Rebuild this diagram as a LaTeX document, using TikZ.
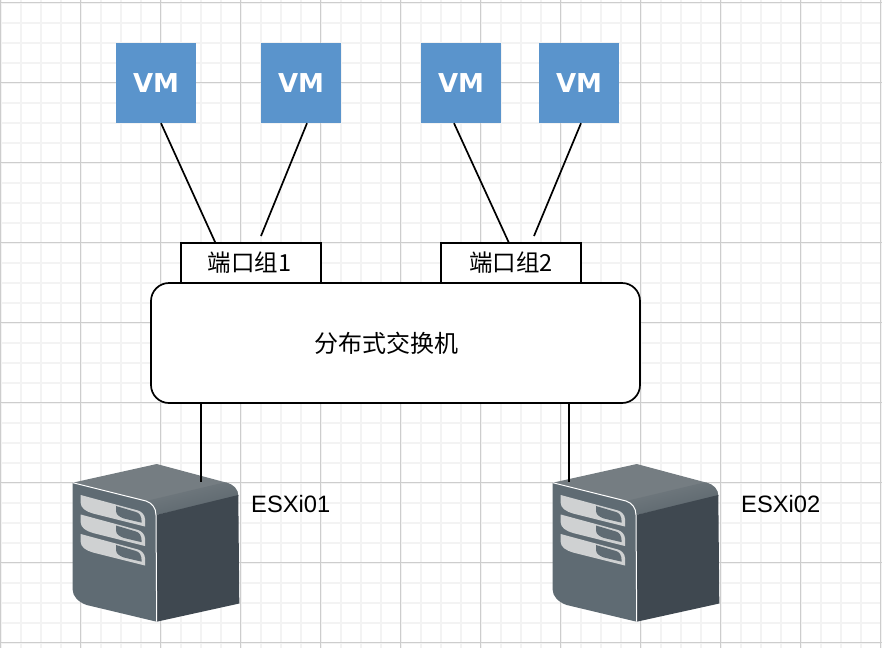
\documentclass[tikz,border=0pt]{standalone}
\usepackage{fontspec}
\setmainfont{Liberation Sans}
\newfontfamily\cjk{Noto Sans CJK SC}
\newfontfamily\vmfont{DejaVu Sans}
\usetikzlibrary{calc}
\definecolor{gridminor}{HTML}{F3F3F3}
\definecolor{gridmajor}{HTML}{CDCDCD}
\definecolor{vmblue}{HTML}{5A94CC}
\definecolor{srvtop}{HTML}{757D82}
\definecolor{srvband}{HTML}{59646B}
\definecolor{srvfront}{HTML}{5F6B73}
\definecolor{srvright}{HTML}{3F4850}
\definecolor{srvslot}{HTML}{CFD1D2}
\tikzset{
  x=1pt,y=-1pt,
  vmbox/.style={fill=vmblue,draw=none,minimum width=80pt,minimum height=80pt,inner sep=0pt,text=white,font=\vmfont\bfseries\fontsize{26}{26}\selectfont},
  pgbox/.style={draw=black,line width=1.7pt,fill=white,minimum width=140pt,minimum height=40pt,inner sep=0pt,font=\cjk\fontsize{23.5}{26}\selectfont},
  swbox/.style={draw=black,line width=1.7pt,fill=white,rounded corners=18pt,minimum width=489pt,minimum height=120pt,inner sep=0pt,font=\cjk\fontsize{24}{26}\selectfont},
  link/.style={draw=black,line width=1.7pt},
  label/.style={inner sep=0pt,anchor=west,font=\fontsize{23.7}{26}\selectfont},
  server/.pic={
    \fill[srvtop] (72.7,482.7) -- (156.7,464) -- (226.7,482.7) .. controls (233,484.5) and (238.3,489) .. (238.3,496) -- (156,515) .. controls (156,508) and (152,503) .. (146,501) -- cycle;
    \shade[top color=srvtop,bottom color=srvband,shading angle=14] (146,501) -- (224,482.5) -- (226.7,482.7) .. controls (233,484.5) and (238.3,489) .. (238.3,496) -- (156,515) .. controls (156,508) and (152,503) .. (146,501) -- cycle;
    \fill[srvright] (156,515) -- (238.3,495) -- (239.3,603.5) -- (156.7,621.7) -- cycle;
    \fill[srvfront] (72.7,482.7) -- (146,501) .. controls (152,503) and (156,508) .. (156,515) -- (156.7,621.7) -- (86.7,605) .. controls (78,602) and (72.7,596) .. (72.7,590) -- cycle;
    \draw[white,line width=1pt] (72.7,482.7) -- (146,501) .. controls (152,503) and (156,508) .. (156,515) -- (156.7,621.7);
    \foreach \d in {0,19.5,39}{
      \begin{scope}[yshift=-\d pt]
      \fill[srvslot] (80.7,495) -- (138,510.5) .. controls (141.5,511.5) and (145,515) .. (145,519) -- (145,526.5) -- (93,513.5) .. controls (86,511.5) and (80.7,508) .. (80.7,503) -- cycle;
      \fill[srvfront] (116,506) -- (136,512) .. controls (139.5,513) and (141.7,516) .. (141.7,522.7) -- (124,518.5) .. controls (120,517) and (116,515) .. (116,511) -- cycle;
      \end{scope}
    }
  }
}
\begin{document}
\begin{tikzpicture}
\useasboundingbox (0,0) rectangle (882,648);
\fill[white] (0,0) rectangle (882,648);
\foreach \xx in {0,20,...,880}{\draw[gridminor,line width=2pt] (\xx+.5,0) -- (\xx+.5,648);}
\foreach \yy in {2,22,...,642}{\draw[gridminor,line width=2pt] (0,\yy+.5) -- (882,\yy+.5);}
\foreach \xx in {0,80,...,880}{\draw[gridmajor,line width=1.2pt] (\xx+.5,0) -- (\xx+.5,648);}
\foreach \yy in {2,82,...,642}{\draw[gridmajor,line width=1.2pt] (0,\yy+.5) -- (882,\yy+.5);}

\node[vmbox] (vm1) at (156,83) {VM};
\node[vmbox] (vm2) at (301,83) {VM};
\node[vmbox] (vm3) at (461,83) {VM};
\node[vmbox] (vm4) at (579,83) {VM};

\node[pgbox] (pg1) at (251,263) {\kern-3pt 端口组1};
\node[pgbox] (pg2) at (511,263) {端口组2};
\node[swbox] (sw) at (395.5,343) {\kern-19pt 分布式交换机};

\pic at (0,0) {server};
\pic at (480,0) {server};
\coordinate (srv1top) at (201,482);
\coordinate (srv2top) at (569,482);
\node[label] (esx1) at (251,504) {ESXi01};
\node[label] (esx2) at (741,504) {ESXi02};

\coordinate (p1) at (215.5,243);
\coordinate (p2) at (261,236);
\coordinate (p3) at (509,243);
\coordinate (p4) at (534,236);
\draw[link] ($(vm1.south)+(5,0)$) -- (p1);
\draw[link] ($(vm2.south)+(6,0)$) -- (p2);
\draw[link] ($(vm3.south)+(-7,0)$) -- (p3);
\draw[link] ($(vm4.south)+(2,0)$) -- (p4);
\draw[link] (sw.south -| srv1top) -- (srv1top);
\draw[link] (sw.south -| srv2top) -- (srv2top);
\end{tikzpicture}
\end{document}
